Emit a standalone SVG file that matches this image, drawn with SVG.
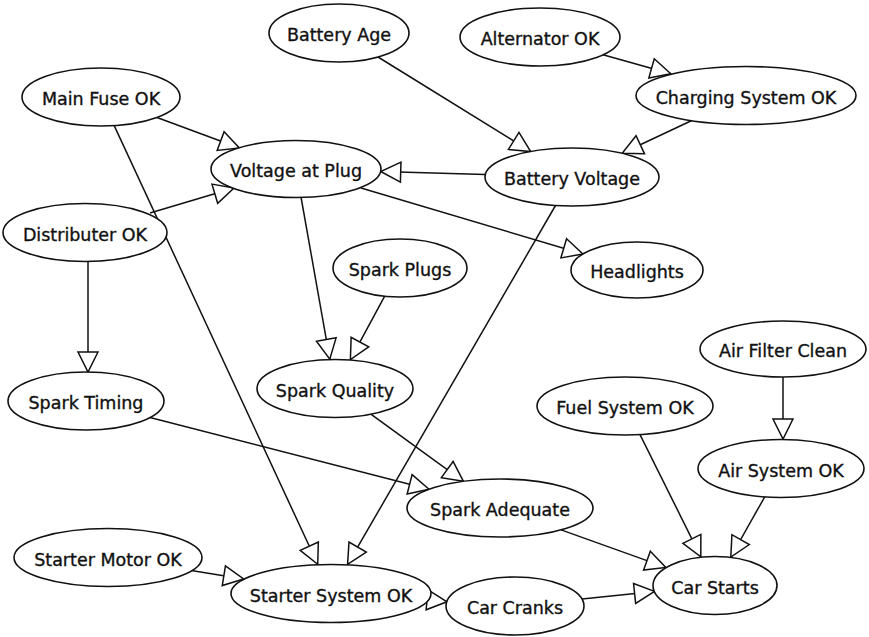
<svg xmlns="http://www.w3.org/2000/svg" width="869" height="637" viewBox="0 0 869 637">
<style>
.n ellipse{fill:#fff;stroke:#111;stroke-width:1.6}
.n text{font-family:"DejaVu Sans","Liberation Sans",sans-serif;font-size:17.5px;fill:#111;stroke:#111;stroke-width:0.35;text-anchor:middle}
.e line{stroke:#111;stroke-width:1.5;fill:none;marker-end:url(#arr)}
</style>
<defs>
<marker id="arr" markerWidth="24" markerHeight="24" refX="22" refY="12" orient="auto" markerUnits="userSpaceOnUse" viewBox="0 0 24 24">
<path d="M2,2 L22,12 L2,22 Z" fill="#fff" stroke="#111" stroke-width="1.5"/>
</marker>
</defs>
<rect width="869" height="637" fill="#fff"/>
<g id="edges" class="e">
<line x1="157" y1="117.5" x2="239.4" y2="148"/>
<line x1="114.2" y1="125.6" x2="317.7" y2="564.3"/>
<line x1="150" y1="213" x2="234" y2="188"/>
<line x1="88" y1="261" x2="88" y2="372"/>
<line x1="378" y1="57" x2="530.7" y2="151.5"/>
<line x1="603" y1="54.8" x2="670.8" y2="73.8"/>
<line x1="692.3" y1="120.3" x2="622.2" y2="153.3"/>
<line x1="485.3" y1="174.5" x2="380.7" y2="171.5"/>
<line x1="361" y1="188" x2="582.9" y2="254"/>
<line x1="301" y1="197" x2="329.8" y2="359.1"/>
<line x1="384.7" y1="296.2" x2="350.4" y2="359.6"/>
<line x1="555.5" y1="205.5" x2="347.6" y2="564.4"/>
<line x1="150" y1="417.6" x2="429" y2="489.3"/>
<line x1="370.5" y1="413.8" x2="463.4" y2="481.3"/>
<line x1="191.3" y1="570.4" x2="243.6" y2="578.9"/>
<line x1="428.1" y1="599.9" x2="447" y2="601.8"/>
<line x1="582" y1="599" x2="654.5" y2="591.4"/>
<line x1="561.1" y1="529.9" x2="665.8" y2="567.4"/>
<line x1="640" y1="434.6" x2="700.8" y2="556.8"/>
<line x1="783" y1="377" x2="783" y2="439"/>
<line x1="765" y1="496.4" x2="730.8" y2="557"/>
</g>
<g id="battery-age" class="n"><ellipse cx="339" cy="33" rx="70" ry="29"/><text x="339" y="41">Battery Age</text></g>
<g id="alternator-ok" class="n"><ellipse cx="540" cy="37" rx="80" ry="29"/><text x="540" y="45">Alternator OK</text></g>
<g id="main-fuse-ok" class="n"><ellipse cx="101" cy="97" rx="79" ry="29"/><text x="101" y="105">Main Fuse OK</text></g>
<g id="charging-system-ok" class="n"><ellipse cx="746" cy="95.5" rx="110" ry="29"/><text x="746" y="103.5">Charging System OK</text></g>
<g id="voltage-at-plug" class="n"><ellipse cx="296" cy="169" rx="85" ry="28.5"/><text x="296" y="177">Voltage at Plug</text></g>
<g id="battery-voltage" class="n"><ellipse cx="572" cy="177" rx="87" ry="29"/><text x="572" y="185">Battery Voltage</text></g>
<g id="distributer-ok" class="n"><ellipse cx="85" cy="232.5" rx="82" ry="29"/><text x="85" y="240.5">Distributer OK</text></g>
<g id="spark-plugs" class="n"><ellipse cx="400" cy="268" rx="67" ry="29"/><text x="400" y="276">Spark Plugs</text></g>
<g id="headlights" class="n"><ellipse cx="637" cy="270" rx="66" ry="28"/><text x="637" y="278">Headlights</text></g>
<g id="spark-quality" class="n"><ellipse cx="335" cy="388.5" rx="78" ry="29"/><text x="335" y="396.5">Spark Quality</text></g>
<g id="spark-timing" class="n"><ellipse cx="86" cy="401" rx="78" ry="29"/><text x="86" y="409">Spark Timing</text></g>
<g id="air-filter-clean" class="n"><ellipse cx="783" cy="349" rx="83" ry="28"/><text x="783" y="357">Air Filter Clean</text></g>
<g id="fuel-system-ok" class="n"><ellipse cx="625" cy="406" rx="88" ry="29"/><text x="625" y="414">Fuel System OK</text></g>
<g id="air-system-ok" class="n"><ellipse cx="781" cy="468.5" rx="83" ry="29"/><text x="781" y="476.5">Air System OK</text></g>
<g id="spark-adequate" class="n"><ellipse cx="500" cy="508" rx="93" ry="29"/><text x="500" y="516">Spark Adequate</text></g>
<g id="starter-motor-ok" class="n"><ellipse cx="108" cy="557.5" rx="94" ry="29"/><text x="108" y="565.5">Starter Motor OK</text></g>
<g id="starter-system-ok" class="n"><ellipse cx="331" cy="593.5" rx="100" ry="29"/><text x="331" y="601.5">Starter System OK</text></g>
<g id="car-starts" class="n"><ellipse cx="715" cy="585.5" rx="62" ry="29"/><text x="715" y="593.5">Car Starts</text></g>
<g id="car-cranks" class="n"><ellipse cx="515" cy="606" rx="69" ry="29"/><text x="515" y="614">Car Cranks</text></g>
</svg>
